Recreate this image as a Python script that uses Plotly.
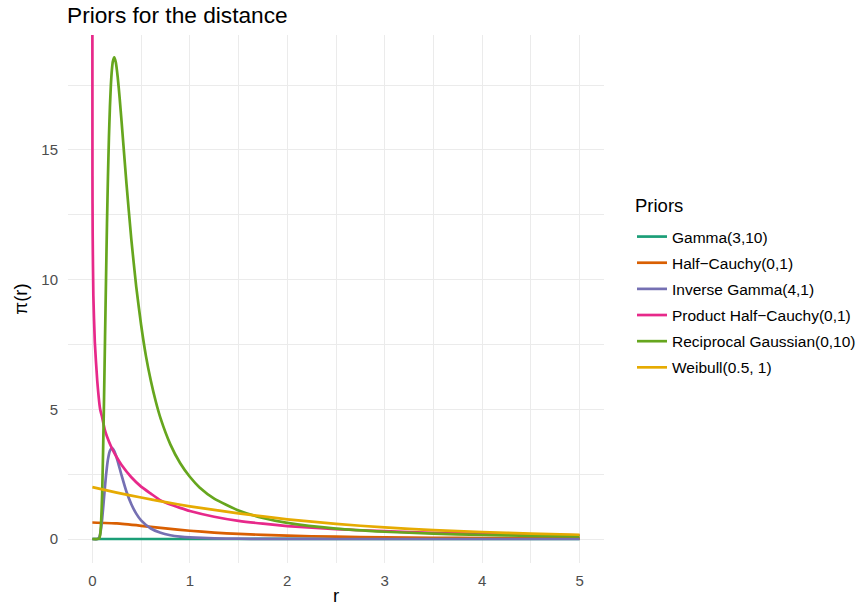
import plotly.graph_objects as go

# ---- data ----
series_names = ["Gamma(3,10)", "Half\u2212Cauchy(0,1)", "Inverse Gamma(4,1)",
                "Product Half\u2212Cauchy(0,1)", "Reciprocal Gaussian(0,10)", "Weibull(0.5, 1)"]
colors = ["#1B9E77", "#D95F02", "#7570B3", "#E7298A", "#66A61E", "#E6AB02"]
legend_title = "Priors"

gamma_x = [0, 1, 2, 3, 4, 5]
gamma_y = [0, 0.0005, 0.0016, 0.0033, 0.0054, 0.0076]

hcauchy_x = [0, 0.25, 0.5, 0.75, 1, 1.25, 1.5, 2, 2.5, 3, 3.5, 4, 4.5, 5]
hcauchy_y = [0.637, 0.599, 0.509, 0.407, 0.318, 0.248, 0.196, 0.127, 0.088, 0.064, 0.049, 0.037, 0.030, 0.025]

invgamma_x = [0, 0.05, 0.07, 0.08, 0.09, 0.10, 0.11, 0.12, 0.13, 0.14, 0.15, 0.16, 0.18, 0.20,
              0.225, 0.25, 0.30, 0.35, 0.40, 0.45, 0.50, 0.60, 0.70, 0.80, 0.90, 1.0, 1.25,
              1.5, 1.75, 2.0, 2.5, 3.0, 4.0, 5.0]
invgamma_y = [0, 0, 0.06, 0.19, 0.42, 0.76, 1.17, 1.61, 2.05, 2.45, 2.79, 3.07, 3.40, 3.51,
              3.39, 3.13, 2.45, 1.82, 1.34, 0.98, 0.72, 0.405, 0.238, 0.146, 0.093, 0.061, 0.025,
              0.011, 0.006, 0.003, 0.001, 0, 0, 0]

product_x = [0.0001, 0.001, 0.003, 0.01, 0.025, 0.05, 0.08, 0.10, 0.125, 0.15, 0.20, 0.25, 0.30,
             0.40, 0.50, 0.60, 0.70, 0.80, 0.90, 1.0, 1.25, 1.5, 1.75, 2.0, 2.5, 3.0, 3.5, 4.0, 4.5, 5.0]
product_y = [20.5, 14.0, 11.8, 9.4, 7.6, 6.1, 5.0, 4.7, 4.25, 3.95, 3.5, 3.15, 2.85,
             2.38, 2.02, 1.75, 1.49, 1.33, 1.20, 1.08, 0.86, 0.70, 0.59, 0.50, 0.38, 0.30, 0.24, 0.20, 0.17, 0.145]

recip_x = [0, 0.05, 0.07, 0.08, 0.09, 0.10, 0.11, 0.12, 0.13, 0.14, 0.15, 0.16, 0.17, 0.18, 0.19,
           0.20, 0.21, 0.225, 0.24, 0.26, 0.28, 0.30, 0.35, 0.40, 0.45, 0.50, 0.55, 0.60, 0.65, 0.70,
           0.80, 0.90, 1.0, 1.1, 1.25, 1.5, 1.75, 2.0, 2.5, 3.0, 3.5, 4.0, 4.5, 5.0]
recip_y = [0, 0, 0.02, 0.16, 0.65, 1.70, 3.35, 5.45, 7.75, 10.0, 12.15, 13.98, 15.48, 16.64, 17.5,
           18.07, 18.41, 18.57, 18.39, 17.81, 17.0, 16.08, 13.7, 11.54, 9.73, 8.26, 7.05, 6.10, 5.31, 4.65,
           3.65, 2.93, 2.40, 1.99, 1.56, 1.10, 0.81, 0.62, 0.40, 0.28, 0.205, 0.157, 0.124, 0.10]

weibull_x = [0, 0.25, 0.5, 0.75, 1, 1.25, 1.5, 1.75, 2, 2.5, 3, 3.5, 4, 4.5, 5]
weibull_y = [2.0, 1.79, 1.6, 1.42, 1.26, 1.12, 0.99, 0.87, 0.76, 0.58, 0.445, 0.345, 0.27, 0.21, 0.165]

x_ticks = [0, 1, 2, 3, 4, 5]
y_ticks = [0, 5, 10, 15]

xs = [gamma_x, hcauchy_x, invgamma_x, product_x, recip_x, weibull_x]
ys = [gamma_y, hcauchy_y, invgamma_y, product_y, recip_y, weibull_y]

FONT = "Liberation Sans, Arial, sans-serif"
W, H = 859, 606
fig = go.Figure()
for name, col, x, y in zip(series_names, colors, xs, ys):
    fig.add_trace(go.Scatter(x=x, y=y, mode="lines", name=name, legendgroup=name,
                             line=dict(color=col, width=2.7, shape="spline", smoothing=0.5)))

grid = "#EBEBEB"
fig.update_layout(
    width=W, height=H,
    margin=dict(l=67.7, r=255, t=35, b=43, autoexpand=False),
    paper_bgcolor="white", plot_bgcolor="white",
    font=dict(family=FONT, color="#4D4D4D"),
    title=dict(text="Priors for the distance", x=67/W, xref="container", xanchor="left",
               y=1 - 15/H, yref="container", yanchor="middle",
               font=dict(size=22.7, color="black", family=FONT)),
    xaxis=dict(range=[-0.25, 5.25], tickvals=x_ticks, showgrid=True, gridcolor=grid, gridwidth=1.3,
               zeroline=False, showline=False, ticks="outside", ticklen=4, tickcolor="rgba(0,0,0,0)",
               tickfont=dict(size=15, color="#4D4D4D"), automargin=False,
               minor=dict(tickvals=[0.5, 1.5, 2.5, 3.5, 4.5], showgrid=True, gridcolor=grid, gridwidth=0.7),
               title=dict(text="r", font=dict(size=18.5, color="black"), standoff=5)),
    yaxis=dict(range=[-0.925, 19.43], tickvals=y_ticks, showgrid=True, gridcolor=grid, gridwidth=1.3,
               zeroline=False, showline=False, ticks="outside", ticklen=6, tickcolor="rgba(0,0,0,0)",
               tickfont=dict(size=15, color="#4D4D4D"), automargin=False,
               minor=dict(tickvals=[2.5, 7.5, 12.5, 17.5], showgrid=True, gridcolor=grid, gridwidth=0.7),
               title=dict(text="\u03c0(r)", font=dict(size=18.5, color="black"), standoff=8)),
    legend=dict(font=dict(size=15.5, color="black"), xref="container", yref="container",
                x=632 / W, xanchor="left", y=1 - 220 / H, yanchor="top",
                tracegroupgap=3.0, itemwidth=30, bgcolor="rgba(0,0,0,0)"),
    annotations=[dict(text=legend_title, xref="paper", yref="paper", showarrow=False,
                      x=(633 - 67.7) / (W - 67.7 - 255), y=(563 - 205) / (H - 35 - 43),
                      xanchor="left", yanchor="middle",
                      font=dict(size=18.5, color="black", family=FONT))],
)
fig.write_html("out.html")
